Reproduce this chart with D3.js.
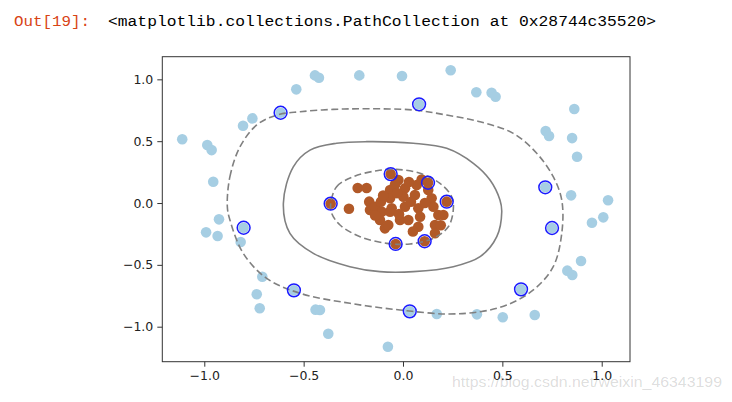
<!DOCTYPE html>
<html>
<head>
<meta charset="utf-8">
<script src="https://cdn.jsdelivr.net/npm/d3@7"></script>
<style>
    body { margin: 0; background: #fff; }
    svg { display: block; }
</style>
</head>
<body>
<div class="container"></div>
<script>

// outer ring (class 0)
var outerX = [-1.111, -0.985, -0.963, -0.955, -0.805, -0.758, -0.616, -0.537, -0.443, -0.423,
    -0.220, -0.005, 0.240, 0.081, 0.369, 0.446, 0.466, 0.862, 0.718, 0.735,
    0.851, 0.876, 0.716, 0.846, 1.032, 0.951, 1.008, 0.750, 0.896, 0.827,
    0.852, 0.594, 0.663, 0.502, 0.372, 0.170, 0.034, -0.076, -0.376, -0.440,
    -0.418, -0.549, -0.721, -0.736, -0.708, -0.817, -0.802, -0.926, -0.991, -0.933];
var outerY = [0.515, 0.469, 0.428, 0.172, 0.625, 0.684, 0.730, 0.919, 1.032, 1.013,
    1.032, 1.027, 1.073, 0.798, 0.895, 0.892, 0.859, 0.760, 0.582, 0.542,
    0.525, 0.374, 0.127, 0.062, 0.022, -0.159, -0.116, -0.202, -0.469, -0.547,
    -0.582, -0.698, -0.905, -0.924, -0.900, -0.897, -0.876, -1.162, -1.057, -0.862,
    -0.865, -0.706, -0.851, -0.738, -0.596, -0.315, -0.200, -0.132, -0.237, -0.267];

// inner cluster (class 1)
var innerX = [-0.364, -0.062, 0.126, 0.220, -0.037, 0.109, -0.272, -0.228, -0.183, -0.170,
    -0.166, -0.141, -0.111, -0.107, -0.116, -0.091, -0.140, -0.065, -0.065, -0.065,
    -0.023, -0.040, 0.010, 0.002, 0.069, 0.060, 0.010, -0.057, -0.074, -0.015,
    0.027, 0.077, 0.086, 0.077, 0.144, 0.153, 0.161, 0.178, 0.203, 0.161,
    0.127, 0.094, 0.030, -0.030, 0.040, 0.110, -0.020, 0.050, 0.190, -0.100];
var innerY = [-0.005, 0.234, 0.164, 0.011, -0.331, -0.309, -0.046, 0.121, 0.121, 0.011,
    -0.057, -0.030, 0.011, -0.070, -0.137, -0.205, -0.100, 0.105, 0.038, -0.070,
    0.186, 0.150, 0.119, 0.051, 0.146, 0.065, -0.030, -0.043, -0.178, -0.137,
    -0.137, -0.043, -0.111, -0.192, 0.038, -0.030, -0.178, -0.097, -0.097, -0.245,
    0.105, 0.190, 0.170, 0.080, 0.010, 0.000, -0.090, -0.230, -0.180, 0.060];

// support vectors
var svX = [-0.616, 0.081, 0.716, 0.750, 0.594, 0.034, -0.549, -0.802,
    -0.364, -0.062, 0.126, 0.220, -0.037, 0.109];
var svY = [0.730, 0.798, 0.127, -0.202, -0.698, -0.876, -0.706, -0.200,
    -0.005, 0.234, 0.164, 0.011, -0.331, -0.309];

// decision function levels
var marginOuterX = [-0.884, -0.871, -0.820, -0.736, -0.636, -0.518, -0.351, -0.183, 0.052, 0.220,
    0.388, 0.555, 0.673, 0.756, 0.799, 0.799, 0.756, 0.656, 0.522, 0.388,
    0.220, -0.015, -0.267, -0.518, -0.686, -0.804, -0.871];
var marginOuterY = [-0.030, 0.213, 0.455, 0.631, 0.711, 0.738, 0.757, 0.762, 0.752, 0.711,
    0.657, 0.563, 0.402, 0.213, 0.024, -0.245, -0.515, -0.703, -0.825, -0.879,
    -0.897, -0.865, -0.811, -0.730, -0.609, -0.407, -0.137];
var boundaryX = [-0.602, -0.552, -0.468, -0.334, -0.183, 0.052, 0.220, 0.354, 0.438, 0.488,
    0.497, 0.472, 0.388, 0.253, 0.052, -0.116, -0.267, -0.451, -0.569];
var boundaryY = [-0.002, 0.293, 0.428, 0.483, 0.496, 0.483, 0.442, 0.321, 0.186, 0.024,
    -0.070, -0.272, -0.434, -0.515, -0.555, -0.555, -0.515, -0.407, -0.245];
var marginInnerX = [-0.364, -0.334, -0.250, -0.132, -0.032, 0.086, 0.186, 0.245, 0.253, 0.228,
    0.152, 0.035, -0.082, -0.216, -0.317, -0.359];
var marginInnerY = [-0.008, 0.132, 0.213, 0.261, 0.272, 0.240, 0.159, 0.051, -0.057, -0.192,
    -0.285, -0.331, -0.326, -0.272, -0.178, -0.083];

var tickVals = [-1.0, -0.5, 0.0, 0.5, 1.0];

var width = 732;
var height = 402;

function zip(xs, ys) {
    return xs.map(function (x, i) { return [x, ys[i]]; });
}

drawChart();

function drawChart() {
    var svg = d3.select('.container')
        .append('svg')
        .attr('width', width)
        .attr('height', height)

    svg.append('rect')
        .attr('width', width)
        .attr('height', height)
        .attr('fill', '#fff')

    // notebook output prompt
    svg.append('text')
        .attr('x', 14)
        .attr('y', 26)
        .attr('font-family', 'Liberation Mono, DejaVu Sans Mono, monospace')
        .attr('font-size', '15.5px')
        .attr('fill', '#d84315')
        .attr('textLength', 76)
        .attr('lengthAdjust', 'spacingAndGlyphs')
        .text('Out[19]:')

    svg.append('text')
        .attr('x', 108)
        .attr('y', 26)
        .attr('font-family', 'Liberation Mono, DejaVu Sans Mono, monospace')
        .attr('font-size', '15.5px')
        .attr('fill', '#000')
        .attr('textLength', 548)
        .attr('lengthAdjust', 'spacingAndGlyphs')
        .text('<matplotlib.collections.PathCollection at 0x28744c35520>')

    var x = d3.scaleLinear().domain([-1.2113, 1.1424]).range([162.3, 630]);
    var y = d3.scaleLinear().domain([-1.283, 1.183]).range([361.7, 56.7]);

    var plot = svg.append('g')

    plot.selectAll('circle.outer')
        .data(zip(outerX, outerY))
        .enter().append('circle')
        .attr('class', 'outer')
        .attr('cx', function (d) { return x(d[0]); })
        .attr('cy', function (d) { return y(d[1]); })
        .attr('r', 5.3)
        .attr('fill', '#a6cee3')

    plot.selectAll('circle.inner')
        .data(zip(innerX, innerY))
        .enter().append('circle')
        .attr('class', 'inner')
        .attr('cx', function (d) { return x(d[0]); })
        .attr('cy', function (d) { return y(d[1]); })
        .attr('r', 5.3)
        .attr('fill', '#b15928')

    var line = d3.line()
        .x(function (d) { return x(d[0]); })
        .y(function (d) { return y(d[1]); })
        .curve(d3.curveCatmullRomClosed.alpha(0.5))

    var levels = [
        { pts: zip(marginOuterX, marginOuterY), dash: '7,3.5' },
        { pts: zip(boundaryX, boundaryY), dash: null },
        { pts: zip(marginInnerX, marginInnerY), dash: '7,3.5' }
    ];

    plot.selectAll('path.level')
        .data(levels)
        .enter().append('path')
        .attr('class', 'level')
        .attr('d', function (d) { return line(d.pts); })
        .attr('fill', 'none')
        .attr('stroke', '#808080')
        .attr('stroke-width', 1.6)
        .attr('stroke-dasharray', function (d) { return d.dash; })

    plot.selectAll('circle.sv')
        .data(zip(svX, svY))
        .enter().append('circle')
        .attr('class', 'sv')
        .attr('cx', function (d) { return x(d[0]); })
        .attr('cy', function (d) { return y(d[1]); })
        .attr('r', 6.4)
        .attr('fill', 'none')
        .attr('stroke', '#1a1aff')
        .attr('stroke-width', 1.5)

    // frame
    svg.append('rect')
        .attr('x', 162.3)
        .attr('y', 56.7)
        .attr('width', 630 - 162.3)
        .attr('height', 361.7 - 56.7)
        .attr('fill', 'none')
        .attr('stroke', '#333')
        .attr('stroke-width', 1)

    var fmt = d3.format('.1f');

    var xAxis = svg.append('g')
        .attr('transform', 'translate(0,361.7)')
        .call(d3.axisBottom(x).tickValues(tickVals).tickFormat(fmt).tickSize(5).tickPadding(4))
    var yAxis = svg.append('g')
        .attr('transform', 'translate(162.3,0)')
        .call(d3.axisLeft(y).tickValues(tickVals).tickFormat(fmt).tickSize(5).tickPadding(4))

    ;[xAxis, yAxis].forEach(function (ax) {
        ax.select('.domain').remove();
        ax.selectAll('line').attr('stroke', '#333');
        ax.selectAll('text')
            .attr('fill', '#222')
            .attr('font-family', 'DejaVu Sans, sans-serif')
            .attr('font-size', '12.5px');
    });

    // watermark
    svg.append('text')
        .attr('x', 452)
        .attr('y', 387)
        .attr('font-family', 'Liberation Sans, Arial, sans-serif')
        .attr('font-size', '15px')
        .attr('fill', '#000')
        .attr('fill-opacity', 0.15)
        .attr('textLength', 270)
        .attr('lengthAdjust', 'spacingAndGlyphs')
        .text('https://blog.csdn.net/weixin_46343199')
}
</script>
</body>
</html>
